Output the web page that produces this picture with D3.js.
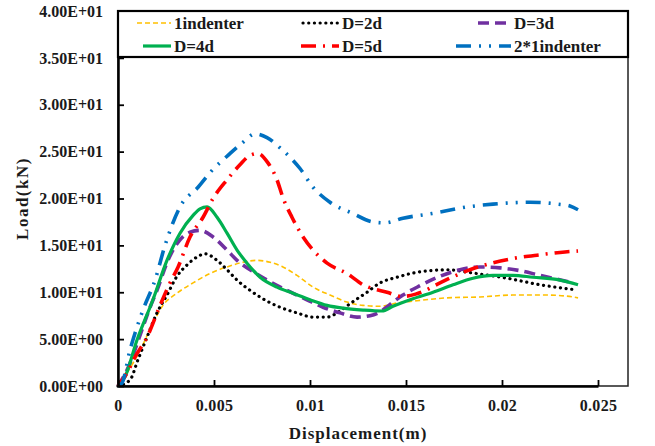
<!DOCTYPE html>
<html>
<head>
<meta charset="utf-8">
<script src="https://cdn.jsdelivr.net/npm/d3@7"></script>
<style>
  html, body { margin: 0; padding: 0; background: #fff; }
  svg { display: block; }
  text { font-family: "Liberation Serif", "Times New Roman", serif; font-weight: bold; fill: #1a1a1a; }
</style>
</head>
<body>
<svg id="chart" width="655" height="446"></svg>
<script>
// Load–displacement curves, [displacement (m), load (kN)]
const series1indenter = [
  [0, 0], [0.000625, 1.9], [0.00115, 3.8], [0.00182, 6.7], [0.00234, 8.6], [0.00307, 9.9],
  [0.00391, 11.0], [0.00479, 12.0], [0.00568, 12.7], [0.00651, 13.2], [0.00724, 13.4],
  [0.00792, 13.2], [0.00859, 12.7], [0.00932, 11.8], [0.01016, 10.55], [0.01104, 9.7],
  [0.01193, 8.95], [0.01276, 8.6], [0.01365, 8.5], [0.01453, 8.85], [0.01536, 9.05],
  [0.01714, 9.4], [0.01885, 9.5], [0.02057, 9.7], [0.02234, 9.7], [0.0237, 9.5], [0.02396, 9.4]
];
const seriesD2d = [
  [0, 0], [0.000625, 0.64], [0.00104, 2.8], [0.00151, 5.2], [0.00203, 7.8], [0.00255, 9.7],
  [0.00307, 11.7], [0.00359, 12.9], [0.00411, 13.75], [0.00453, 14.1], [0.00516, 13.4],
  [0.00568, 12.4], [0.0062, 11.3], [0.00688, 10.2], [0.00755, 9.3], [0.00844, 8.4],
  [0.00932, 7.8], [0.01016, 7.35], [0.01089, 7.35], [0.01156, 8.0], [0.01224, 9.0],
  [0.01297, 10.0], [0.01365, 11.0], [0.01453, 11.6], [0.01536, 12.05], [0.01625, 12.3],
  [0.01714, 12.4], [0.01849, 12.05], [0.02026, 11.5], [0.02198, 10.8], [0.0237, 10.3]
];
const seriesD3d = [
  [0, 0], [0.00047, 1.7], [0.00125, 6.0], [0.00167, 8.4], [0.00203, 10.2], [0.0026, 13.4],
  [0.00323, 15.6], [0.00375, 16.4], [0.00427, 16.6], [0.00495, 15.9], [0.00568, 14.5],
  [0.0062, 13.4], [0.00688, 12.4], [0.00776, 11.3], [0.0088, 10.2], [0.00984, 9.2],
  [0.01068, 8.4], [0.01156, 7.8], [0.01245, 7.35], [0.01313, 7.5], [0.01365, 7.9],
  [0.01417, 8.7], [0.01484, 9.7], [0.01573, 10.7], [0.01677, 11.7], [0.01781, 12.4],
  [0.01885, 12.7], [0.0199, 12.6], [0.02094, 12.3], [0.02198, 11.8], [0.0235, 11.1]
];
const seriesD4d = [
  [0, 0], [0.00036, 0.96], [0.00099, 4.9], [0.00182, 9.2], [0.00255, 13.4], [0.00323, 16.3],
  [0.00391, 18.2], [0.00427, 18.9], [0.00464, 19.1], [0.00516, 18.0], [0.00568, 16.3],
  [0.0062, 14.5], [0.00672, 13.1], [0.0074, 11.6], [0.00828, 10.55], [0.00911, 9.9],
  [0.01, 9.2], [0.01089, 8.6], [0.01172, 8.3], [0.01276, 8.1], [0.01375, 8.0],
  [0.01432, 8.5], [0.01536, 9.3], [0.01641, 10.0], [0.01745, 10.8], [0.01849, 11.5],
  [0.01953, 11.8], [0.02057, 11.8], [0.02161, 11.6], [0.02302, 11.3], [0.02396, 10.8]
];
const seriesD5d = [
  [0, 0], [0.00047, 1.39], [0.00089, 3.1], [0.00151, 5.2], [0.00219, 8.6], [0.00271, 11.0],
  [0.00313, 12.7], [0.00375, 15.9], [0.00443, 18.0], [0.00495, 20.0], [0.00568, 22.0],
  [0.00635, 23.6], [0.00688, 24.6], [0.00729, 24.8], [0.00781, 23.8], [0.00828, 22.0],
  [0.00859, 20.1], [0.00906, 18.0], [0.00964, 15.9], [0.01016, 14.5], [0.01089, 13.1],
  [0.01193, 12.0], [0.01276, 10.8], [0.01401, 10.0], [0.0148, 9.55], [0.0155, 9.8],
  [0.0159, 10.1], [0.01677, 11.0], [0.01833, 12.4], [0.02057, 13.6], [0.02198, 14.0],
  [0.02328, 14.3], [0.02396, 14.4]
];
const series2x1indenter = [
  [0, 0], [0.00021, 0.32], [0.000625, 3.84], [0.00089, 5.65], [0.0013, 8.1], [0.00193, 11.3],
  [0.00245, 15.0], [0.00323, 19.1], [0.00417, 21.2], [0.0049, 23.0], [0.00573, 24.6],
  [0.00651, 26.0], [0.00714, 26.9], [0.00776, 26.5], [0.00844, 25.4], [0.00948, 23.2],
  [0.01016, 21.2], [0.01104, 19.6], [0.01224, 18.4], [0.01328, 17.5], [0.0139, 17.4],
  [0.01484, 17.9], [0.01635, 18.4], [0.01818, 19.1], [0.01953, 19.4], [0.02146, 19.6],
  [0.02292, 19.4], [0.02354, 19.2], [0.02396, 18.8]
];

const seriesNames = ["1indenter", "D=2d", "D=3d", "D=4d", "D=5d", "2*1indenter"];
const xTicks = [0, 0.005, 0.01, 0.015, 0.02, 0.025];
const yTicks = [0, 5, 10, 15, 20, 25, 30, 35, 40];
const xTitle = "Displacement(m)";
const yTitle = "Load(kN)";

// Line styling per series
const styles = [
  { data: series1indenter, color: "#FFC000", width: 1.6, dash: "5,3", cap: "butt" },
  { data: seriesD2d, color: "#000000", width: 3.2, dash: "0.1,5.6", cap: "round" },
  { data: seriesD3d, color: "#7030A0", width: 3.6, dash: "11,6", cap: "butt" },
  { data: seriesD4d, color: "#00B050", width: 3.2, dash: null, cap: "butt" },
  { data: seriesD5d, color: "#FF0000", width: 3.6, dash: "15,7,2,7", cap: "butt" },
  { data: series2x1indenter, color: "#0070C0", width: 3.6, dash: "15,8,2,8,2,8", cap: "butt" }
];

const svg = d3.select("#chart");
const plotLeft = 118, plotRight = 598, frameRight = 628, plotTop = 11, plotBottom = 386;

const x = d3.scaleLinear().domain([0, 0.025]).range([plotLeft, plotRight]);
const y = d3.scaleLinear().domain([0, 40]).range([plotBottom, plotTop]);

function sci(v) {
  if (v === 0) return "0.00E+00";
  const e = Math.floor(Math.log10(Math.abs(v)));
  const m = v / Math.pow(10, e);
  return m.toFixed(2) + "E" + (e < 0 ? "-" : "+") + String(Math.abs(e)).padStart(2, "0");
}

// Plot frame
svg.append("rect")
  .attr("x", plotLeft).attr("y", plotTop)
  .attr("width", frameRight - plotLeft).attr("height", plotBottom - plotTop)
  .attr("fill", "none").attr("stroke", "#222").attr("stroke-width", 1.5);

// Curves
const line = d3.line()
  .x(d => x(d[0]))
  .y(d => y(d[1]))
  .curve(d3.curveMonotoneX);

const curves = svg.append("g");
styles.forEach(s => {
  curves.append("path")
    .datum(s.data)
    .attr("d", line)
    .attr("fill", "none")
    .attr("stroke", s.color)
    .attr("stroke-width", s.width)
    .attr("stroke-dasharray", s.dash)
    .attr("stroke-linecap", s.cap)
    .attr("stroke-linejoin", "round");
});

// Axes
const yAxis = d3.axisLeft(y)
  .tickValues(yTicks)
  .tickFormat(sci)
  .tickSizeInner(-6)
  .tickSizeOuter(0)
  .tickPadding(15);
const gy = svg.append("g").attr("transform", `translate(${plotLeft},0)`).call(yAxis);
gy.select(".domain").attr("stroke", "#000").attr("stroke-width", 2.5);
gy.selectAll(".tick line").attr("stroke", "#000").attr("stroke-width", 1.8);
gy.selectAll(".tick text")
  .style("font-size", "16px")
  .attr("fill", "#1a1a1a");

const xAxis = d3.axisBottom(x)
  .tickValues(xTicks)
  .tickFormat(d => d3.format("~g")(d))
  .tickSizeInner(-6)
  .tickSizeOuter(0)
  .tickPadding(14);
const gx = svg.append("g").attr("transform", `translate(0,${plotBottom})`).call(xAxis);
gx.select(".domain").attr("stroke", "#000").attr("stroke-width", 2.5);
gx.selectAll(".tick line").attr("stroke", "#000").attr("stroke-width", 1.8);
gx.selectAll(".tick text")
  .style("font-size", "16px")
  .style("letter-spacing", "0.3px")
  .attr("fill", "#1a1a1a");

// Axis titles
svg.append("text")
  .attr("x", (plotLeft + plotRight) / 2).attr("y", 439)
  .attr("text-anchor", "middle")
  .style("font-size", "17px")
  .style("letter-spacing", "1px")
  .text(xTitle);

svg.append("text")
  .attr("transform", `translate(28,${(plotTop + plotBottom) / 2}) rotate(-90)`)
  .attr("text-anchor", "middle")
  .style("font-size", "17px")
  .style("letter-spacing", "1.5px")
  .text(yTitle);

// Legend box across the top of the plot
const legend = svg.append("g");
legend.append("rect")
  .attr("x", plotLeft).attr("y", plotTop)
  .attr("width", frameRight - plotLeft).attr("height", 46)
  .attr("fill", "#fff").attr("stroke", "#000").attr("stroke-width", 2.2);

const rowY = [23, 46];
const colText = [174, 342, 514];
const sampleStart = [[137, 303, 478], [143, 301, 456]];
seriesNames.forEach((name, i) => {
  const row = Math.floor(i / 3), col = i % 3;
  const s = styles[i];
  const ly = rowY[row];
  legend.append("line")
    .attr("x1", sampleStart[row][col]).attr("x2", colText[col] - 3)
    .attr("y1", ly).attr("y2", ly)
    .attr("stroke", s.color)
    .attr("stroke-width", s.width)
    .attr("stroke-dasharray", s.dash)
    .attr("stroke-linecap", s.cap);
  legend.append("text")
    .attr("x", colText[col]).attr("y", ly + 5.5)
    .style("font-size", "17px")
    .text(name);
});
</script>
</body>
</html>
